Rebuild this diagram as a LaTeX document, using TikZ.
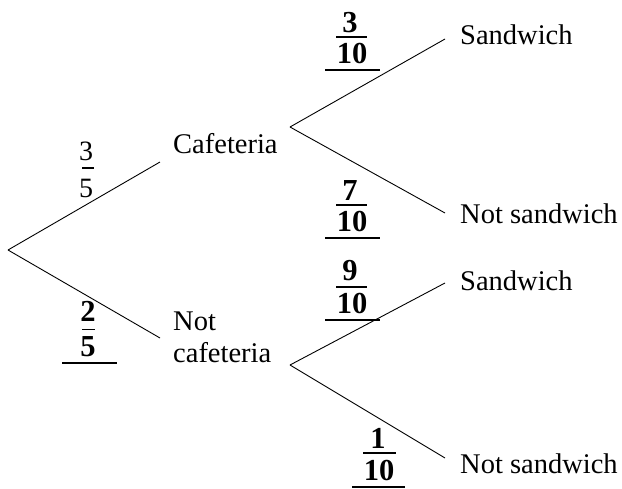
\documentclass[tikz,border=0pt]{standalone}
\usepackage{fontspec}
\setmainfont{Liberation Serif}
\begin{document}
\begin{tikzpicture}[x=1pt,y=-1pt,
  lbl/.style={inner sep=0pt, anchor=base west, font=\fontsize{28.5}{32}\selectfont, align=left},
  dig/.style={inner sep=0pt, anchor=base, font=\fontsize{28}{30}\selectfont},
  bdig/.style={inner sep=0pt, anchor=base, font=\fontsize{30.5}{32}\selectfont\bfseries},
  branch/.style={line width=0.9pt},
  fbar/.style={line width=1.4pt},
  uline/.style={line width=1.2pt}]
\useasboundingbox (0,0) rectangle (622,488);

% branch points
\coordinate (root) at (8,250);
\coordinate (cafE) at (160,162);
\coordinate (ncafE) at (160,338);
\coordinate (cafB) at (290,127);
\coordinate (ncafB) at (290,365);
\coordinate (s1E) at (445,39);
\coordinate (n1E) at (445,213);
\coordinate (s2E) at (445,283);
\coordinate (n2E) at (445,458);

\draw[branch] (root) -- (cafE);
\draw[branch] (root) -- (ncafE);
\draw[branch] (cafB) -- (s1E);
\draw[branch] (cafB) -- (n1E);
\draw[branch] (ncafB) -- (s2E);
\draw[branch] (ncafB) -- (n2E);

% labels
\node[lbl] (caf) at (173,153) {Cafeteria};
\node[lbl] (ncaf) at (173,362) {Not\\cafeteria};
\node[lbl] (s1) at (460,44) {Sandwich};
\node[lbl] (n1) at (460,223) {Not sandwich};
\node[lbl] (s2) at (460,290) {Sandwich};
\node[lbl] (n2) at (460,473) {Not sandwich};

% 3/5
\node[dig] (f1n) at (86,160) {3};
\node[dig] (f1d) at (86,197) {5};
\draw[fbar] (82,168) -- (94,168);

% 2/5
\node[bdig] (f2n) at (88,321) {2};
\node[bdig] (f2d) at (88,356) {5};
\draw[fbar] (82,329.5) -- (95,329.5);
\draw[uline] (62,363) -- (117,363);

% 3/10
\node[bdig] (f3n) at (350,32) {3};
\node[bdig] (f3d) at (352,63) {10};
\draw[fbar] (336,37) -- (367,37);
\draw[uline] (325,70) -- (380,70);

% 7/10
\node[bdig] (f4n) at (350,200) {7};
\node[bdig] (f4d) at (352,231) {10};
\draw[fbar] (336,205) -- (367,205);
\draw[uline] (325,238) -- (380,238);

% 9/10
\node[bdig] (f5n) at (350,280) {9};
\node[bdig] (f5d) at (352,313) {10};
\draw[fbar] (336,287) -- (367,287);
\draw[uline] (325,320) -- (380,320);

% 1/10
\node[bdig] (f6n) at (378,448) {1};
\node[bdig] (f6d) at (379,480) {10};
\draw[fbar] (363,453) -- (396,453);
\draw[uline] (352,487) -- (405,487);
\end{tikzpicture}
\end{document}
